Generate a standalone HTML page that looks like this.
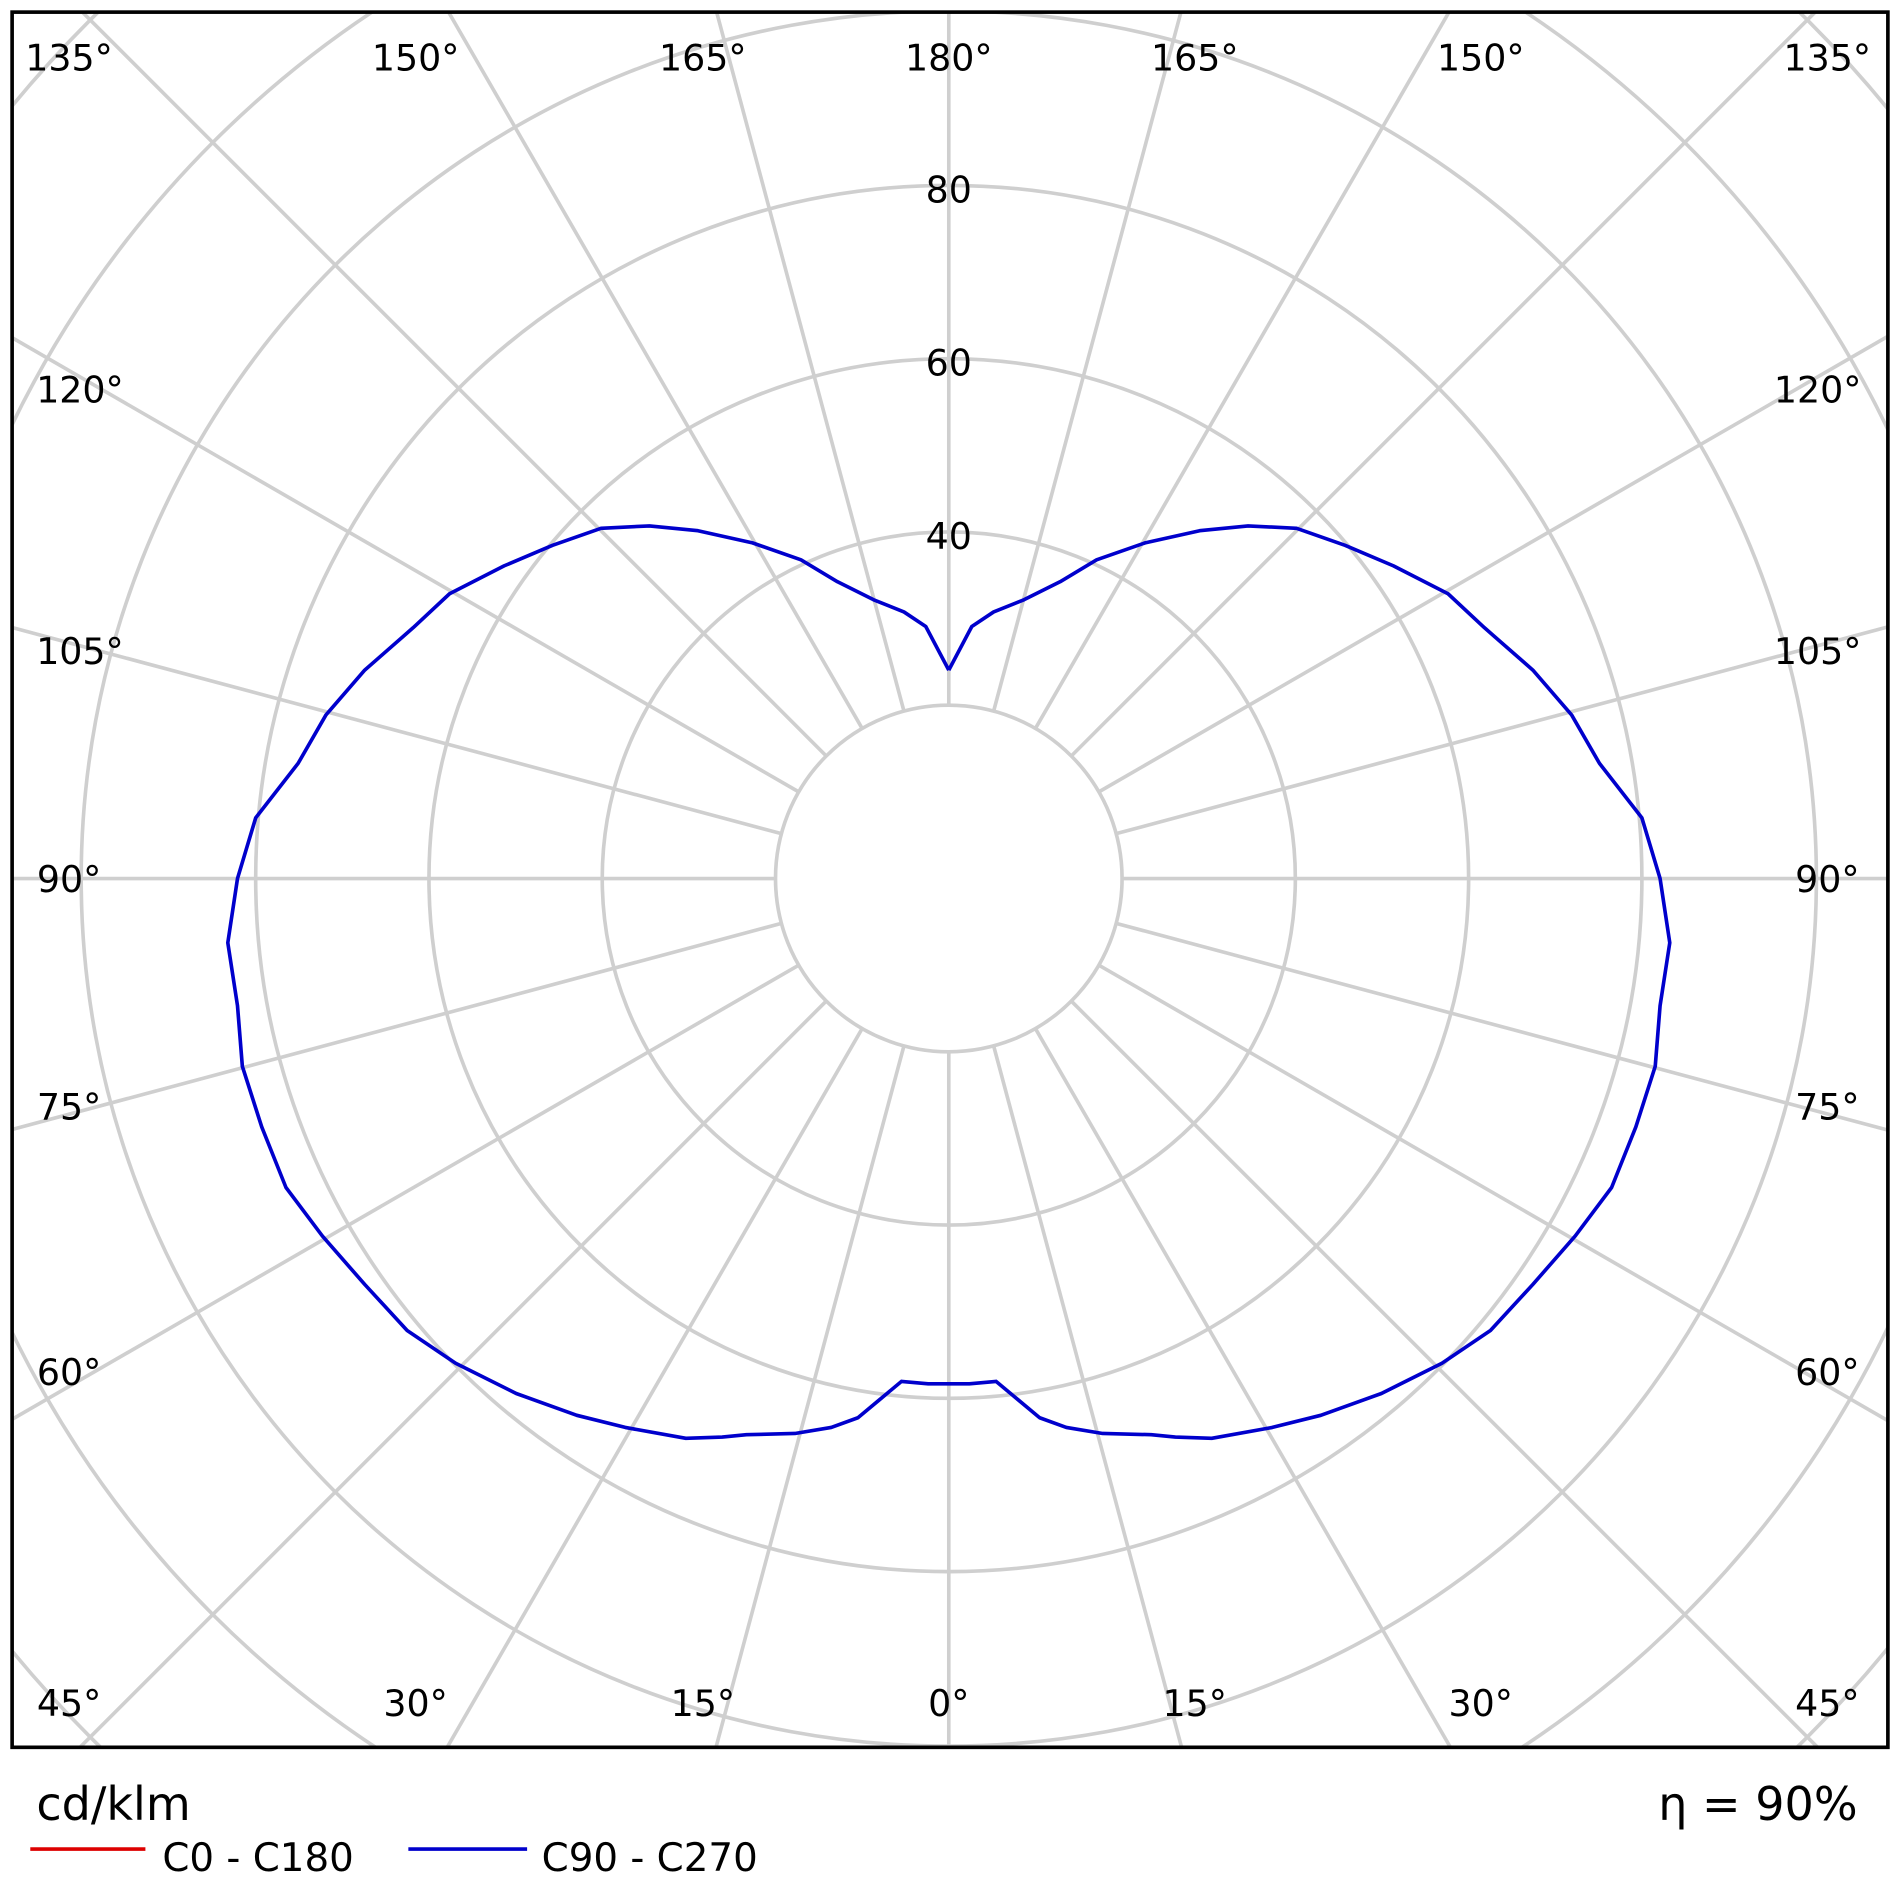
<!DOCTYPE html>
<html><head><meta charset="utf-8"><style>
html,body{margin:0;padding:0;background:#fff;overflow:hidden;width:1900px;height:1900px;}
svg{display:block;}
text{font-family:"DejaVu Sans","Liberation Sans",sans-serif;fill:#000;}
</style></head><body>
<svg width="1900" height="1900" viewBox="0 0 1568 1568" xmlns="http://www.w3.org/2000/svg">
<defs><clipPath id="c"><rect x="10" y="10" width="1548" height="1432"/></clipPath>
<g id="ray"><line x1="783" y1="868" x2="783" y2="2300"/><line x1="783" y1="582" x2="783" y2="-900"/></g>
</defs>
<rect x="0" y="0" width="1568" height="1568" fill="#fff"/>
<g clip-path="url(#c)" stroke="#cfcfcf" stroke-width="3" fill="none">
<circle cx="783" cy="725" r="143"/>
<circle cx="783" cy="725" r="286"/>
<circle cx="783" cy="725" r="429"/>
<circle cx="783" cy="725" r="572"/>
<circle cx="783" cy="725" r="716"/>
<circle cx="783" cy="725" r="859"/>
<circle cx="783" cy="725" r="1002"/>
<use href="#ray"/>
<use href="#ray" transform="rotate(15 783 725)"/>
<use href="#ray" transform="rotate(30 783 725)"/>
<use href="#ray" transform="rotate(45 783 725)"/>
<use href="#ray" transform="rotate(60 783 725)"/>
<use href="#ray" transform="rotate(75 783 725)"/>
<use href="#ray" transform="rotate(90 783 725)"/>
<use href="#ray" transform="rotate(105 783 725)"/>
<use href="#ray" transform="rotate(120 783 725)"/>
<use href="#ray" transform="rotate(135 783 725)"/>
<use href="#ray" transform="rotate(150 783 725)"/>
<use href="#ray" transform="rotate(165 783 725)"/>
</g>
<rect x="10" y="10" width="1548" height="1432" fill="none" stroke="#000" stroke-width="3"/>
<g font-size="30">
<text x="57" y="58" text-anchor="middle">135°</text>
<text x="343" y="58" text-anchor="middle">150°</text>
<text x="580" y="58" text-anchor="middle">165°</text>
<text x="783" y="58" text-anchor="middle">180°</text>
<text x="986" y="58" text-anchor="middle">165°</text>
<text x="1222" y="58" text-anchor="middle">150°</text>
<text x="1508" y="58" text-anchor="middle">135°</text>
<text x="66" y="332" text-anchor="middle">120°</text>
<text x="1500" y="332" text-anchor="middle">120°</text>
<text x="66" y="548" text-anchor="middle">105°</text>
<text x="1500" y="548" text-anchor="middle">105°</text>
<text x="57" y="736" text-anchor="middle">90°</text>
<text x="1508" y="736" text-anchor="middle">90°</text>
<text x="57" y="924" text-anchor="middle">75°</text>
<text x="1508" y="924" text-anchor="middle">75°</text>
<text x="57" y="1143" text-anchor="middle">60°</text>
<text x="1508" y="1143" text-anchor="middle">60°</text>
<text x="57" y="1416" text-anchor="middle">45°</text>
<text x="343" y="1416" text-anchor="middle">30°</text>
<text x="580" y="1416" text-anchor="middle">15°</text>
<text x="783" y="1416" text-anchor="middle">0°</text>
<text x="986" y="1416" text-anchor="middle">15°</text>
<text x="1222" y="1416" text-anchor="middle">30°</text>
<text x="1508" y="1416" text-anchor="middle">45°</text>
<text x="783" y="167" text-anchor="middle">80</text>
<text x="783" y="310" text-anchor="middle">60</text>
<text x="783" y="453" text-anchor="middle">40</text>
</g>
<polyline id="curve" fill="none" stroke="#0000cc" stroke-width="3" stroke-linejoin="round" points=""/>
<script>
(function(){var r=[[783,553],[802,517],[820,505],[845,495],[875,480],[905,462],[945,448],[990,438],[1030,434],[1070,436],[1110,450],[1150,467],[1195,490],[1225,518],[1265,553],[1297,590],[1320,630],[1355,675],[1370,725],[1378,778],[1370,830],[1366,880],[1350,930],[1330,980],[1300,1020],[1265,1060],[1230,1098],[1190,1125],[1140,1150],[1090,1168],[1050,1178],[1000,1187],[970,1186],[950,1184],[910,1183],[880,1178],[858,1170],[840,1155],[822,1140],[800,1142],[783,1142]];
var pts=r.map(function(p){return p[0]+','+p[1];});
for(var i=r.length-2;i>=0;i--){pts.push((1566-r[i][0])+','+r[i][1]);}
document.getElementById('curve').setAttribute('points',pts.join(' '));})();
</script>
<text x="30" y="1502" font-size="38">cd/klm</text>
<text x="1533" y="1502" font-size="38" text-anchor="end">η = 90%</text>
<line x1="25" y1="1526" x2="120" y2="1526" stroke="#dd0000" stroke-width="3"/>
<text x="134" y="1544" font-size="32">C0 - C180</text>
<line x1="337" y1="1526" x2="435" y2="1526" stroke="#0000cc" stroke-width="3"/>
<text x="447" y="1544" font-size="32">C90 - C270</text>
</svg>
</body></html>
